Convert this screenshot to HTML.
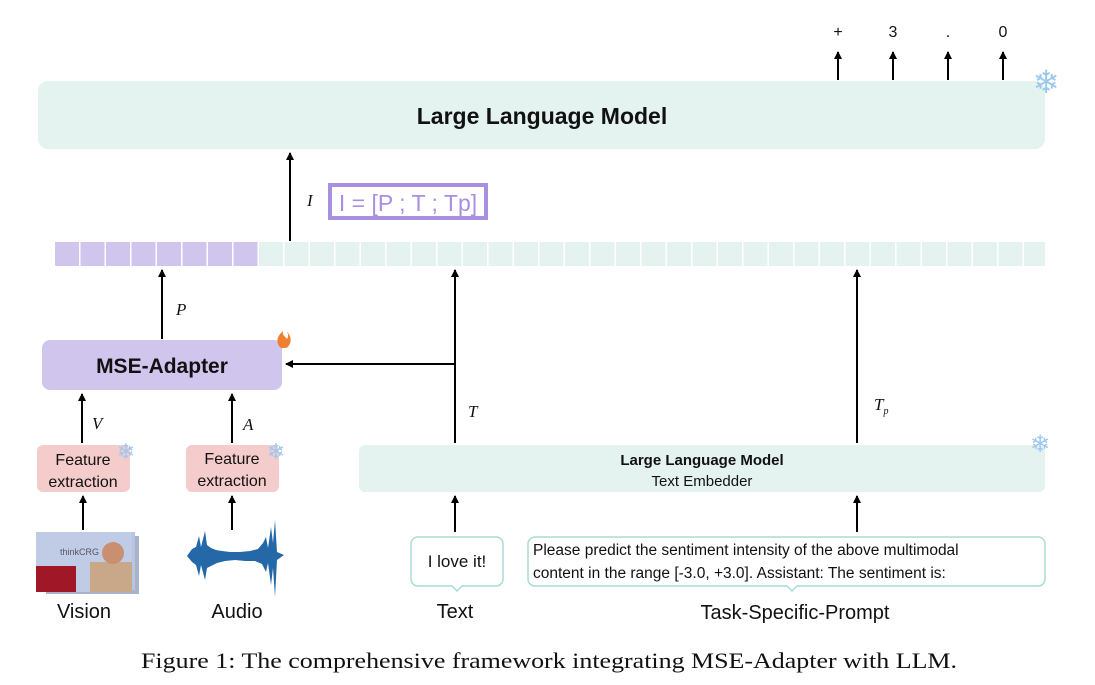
<!DOCTYPE html>
<html><head><meta charset="utf-8"><style>
html,body{margin:0;padding:0;background:#fff;}
svg{display:block;}
text{font-family:"Liberation Sans","DejaVu Sans",sans-serif;}
text.serif{font-family:"Liberation Serif",serif;}
</style></head><body>
<svg width="1095" height="685" viewBox="0 0 1095 685" xmlns="http://www.w3.org/2000/svg">
<defs>
<marker id="ah" markerWidth="8" markerHeight="8" refX="7" refY="4" orient="auto" markerUnits="userSpaceOnUse">
<path d="M0,0 L8,4 L0,8 z" fill="#000"/></marker>
</defs>
<rect x="38" y="81" width="1007" height="68" rx="10" fill="#e4f3ef"/>
<text x="542" y="124" font-size="23" font-weight="bold" text-anchor="middle" fill="#111">Large Language Model</text>
<text x="1046" y="93" font-size="32" fill="#9cc8ee" text-anchor="middle">❄</text>
<g stroke="#000" stroke-width="2" fill="none" marker-end="url(#ah)">
<line x1="838" y1="80" x2="838" y2="52"/><line x1="893" y1="80" x2="893" y2="52"/>
<line x1="948" y1="80" x2="948" y2="52"/><line x1="1003" y1="80" x2="1003" y2="52"/>
</g>
<g font-size="16" text-anchor="middle" fill="#111">
<text x="838" y="37">+</text><text x="893" y="37">3</text><text x="948" y="37">.</text><text x="1003" y="37">0</text>
</g>
<g fill="#d0c5ec">
<rect x="55" y="242" width="24" height="24"/><rect x="80.5" y="242" width="24" height="24"/><rect x="106" y="242" width="24" height="24"/><rect x="131.5" y="242" width="24" height="24"/><rect x="157" y="242" width="24" height="24"/><rect x="182.5" y="242" width="24" height="24"/><rect x="208" y="242" width="24" height="24"/><rect x="233.5" y="242" width="24" height="24"/>
</g>
<g fill="#e4f3ef">
<rect x="259" y="242" width="24" height="24"/><rect x="284.5" y="242" width="24" height="24"/><rect x="310" y="242" width="24" height="24"/><rect x="335.5" y="242" width="24" height="24"/><rect x="361" y="242" width="24" height="24"/><rect x="386.5" y="242" width="24" height="24"/><rect x="412" y="242" width="24" height="24"/><rect x="437.5" y="242" width="24" height="24"/><rect x="463" y="242" width="24" height="24"/><rect x="488.5" y="242" width="24" height="24"/><rect x="514" y="242" width="24" height="24"/><rect x="539.5" y="242" width="24" height="24"/><rect x="565" y="242" width="24" height="24"/><rect x="590.5" y="242" width="24" height="24"/><rect x="616" y="242" width="24" height="24"/><rect x="641.5" y="242" width="24" height="24"/><rect x="667" y="242" width="24" height="24"/><rect x="692.5" y="242" width="24" height="24"/><rect x="718" y="242" width="24" height="24"/><rect x="743.5" y="242" width="24" height="24"/><rect x="769" y="242" width="24" height="24"/><rect x="794.5" y="242" width="24" height="24"/><rect x="820" y="242" width="24" height="24"/><rect x="845.5" y="242" width="24" height="24"/><rect x="871" y="242" width="24" height="24"/><rect x="896.5" y="242" width="24" height="24"/><rect x="922" y="242" width="24" height="24"/><rect x="947.5" y="242" width="24" height="24"/><rect x="973" y="242" width="24" height="24"/><rect x="998.5" y="242" width="24" height="24"/><rect x="1024" y="242" width="21" height="24"/>
</g>
<line x1="290" y1="241" x2="290" y2="153" stroke="#000" stroke-width="2" marker-end="url(#ah)"/>
<text class="serif" x="307" y="206" font-size="17" font-style="italic" fill="#111">I</text>
<rect x="330" y="185" width="156" height="33" fill="#fff" stroke="#a88fe0" stroke-width="4"/>
<text x="408" y="211" font-size="23" text-anchor="middle" fill="#a88fe0">I = [P ; T ; Tp]</text>
<rect x="42" y="340" width="240" height="50" rx="8" fill="#d0c5ec"/>
<text x="162" y="373" font-size="21" font-weight="bold" text-anchor="middle" fill="#111">MSE-Adapter</text>
<path d="M281,348 c-6,-5 -4,-12 2,-17 c-1,5 3,6 4,8 c2,-3 1,-5 0,-7 c5,4 5,13 -1,16 z" fill="#f08030"/>
<g stroke="#000" stroke-width="2" fill="none" marker-end="url(#ah)">
<line x1="162" y1="339" x2="162" y2="270"/>
<line x1="82" y1="443" x2="82" y2="394"/>
<line x1="232" y1="443" x2="232" y2="394"/>
<line x1="455" y1="364" x2="286" y2="364"/>
<line x1="455" y1="443" x2="455" y2="270"/>
<line x1="857" y1="443" x2="857" y2="270"/>
<line x1="83" y1="530" x2="83" y2="496"/>
<line x1="232" y1="530" x2="232" y2="496"/>
<line x1="455" y1="532" x2="455" y2="496"/>
<line x1="857" y1="532" x2="857" y2="496"/>
</g>
<g font-style="italic" font-size="17" fill="#111">
<text class="serif" x="176" y="315">P</text><text class="serif" x="92" y="429">V</text><text class="serif" x="243" y="430">A</text><text class="serif" x="468" y="417">T</text><text class="serif" x="874" y="410">T<tspan font-size="10" dy="4">p</tspan></text>
</g>
<rect x="37" y="445" width="93" height="47" rx="6" fill="#f4cccc"/>
<text x="83" y="465" font-size="16" text-anchor="middle" fill="#111">Feature</text>
<text x="83" y="487" font-size="16" text-anchor="middle" fill="#111">extraction</text>
<rect x="186" y="445" width="93" height="47" rx="6" fill="#f4cccc"/>
<text x="232" y="464" font-size="16" text-anchor="middle" fill="#111">Feature</text>
<text x="232" y="486" font-size="16" text-anchor="middle" fill="#111">extraction</text>
<text x="126" y="459" font-size="22" fill="#9cc8ee" text-anchor="middle">❄</text>
<text x="276" y="459" font-size="22" fill="#9cc8ee" text-anchor="middle">❄</text>
<rect x="359" y="445" width="686" height="47" rx="6" fill="#e4f3ef"/>
<text x="702" y="465" font-size="15" font-weight="bold" text-anchor="middle" fill="#111">Large Language Model</text>
<text x="702" y="486" font-size="15" text-anchor="middle" fill="#111">Text Embedder</text>
<text x="1040" y="452" font-size="24" fill="#9cc8ee" text-anchor="middle">❄</text>
<rect x="46" y="536" width="93" height="58" fill="#a8b4cc"/>
<rect x="42" y="532" width="93" height="58" fill="#b8c4e0"/>
<rect x="36" y="532" width="96" height="60" fill="#c0cce6"/>
<rect x="36" y="566" width="40" height="26" fill="#a01828"/>
<rect x="90" y="562" width="42" height="30" fill="#c8a888"/>
<circle cx="113" cy="553" r="11" fill="#c89070"/>
<text x="60" y="555" font-size="9" fill="#556">thinkCRG</text>
<text x="84" y="618" font-size="20" text-anchor="middle" fill="#111">Vision</text>
<path d="M187,556 L192,549 L196,547 L199,536 L201,547 L205,531 L207,545 L211,548 L216,550 L222,551 L230,552 L240,552 L250,551 L258,549 L263,543 L266,537 L268,548 L271,527 L273,543 L275,520 L277,552 L284,555 L277,560 L275,597 L273,568 L271,585 L268,563 L266,572 L262,564 L255,561 L245,561 L235,560 L225,561 L217,563 L211,566 L207,568 L205,580 L201,565 L199,576 L196,565 L192,562 Z" fill="#2468a8"/>
<text x="237" y="618" font-size="20" text-anchor="middle" fill="#111">Audio</text>
<path d="M418,537 h78 a7,7 0 0 1 7,7 v35 a7,7 0 0 1 -7,7 h-34 l-5,5 l-5,-5 h-34 a7,7 0 0 1 -7,-7 v-35 a7,7 0 0 1 7,-7 z" fill="#fff" stroke="#a8dcd4" stroke-width="1.5"/>
<text x="457" y="567" font-size="17" text-anchor="middle" fill="#111">I love it!</text>
<text x="455" y="618" font-size="20" text-anchor="middle" fill="#111">Text</text>
<path d="M535,537 h503 a7,7 0 0 1 7,7 v35 a7,7 0 0 1 -7,7 h-241 l-5,5 l-5,-5 h-252 a7,7 0 0 1 -7,-7 v-35 a7,7 0 0 1 7,-7 z" fill="#fff" stroke="#a8dcd4" stroke-width="1.5"/>
<text x="533" y="555" font-size="15.5" fill="#111">Please predict the sentiment intensity of the above multimodal</text>
<text x="533" y="578" font-size="15.5" fill="#111">content in the range [-3.0, +3.0]. Assistant: The sentiment is:</text>
<text x="795" y="619" font-size="20" text-anchor="middle" fill="#111">Task-Specific-Prompt</text>
<text class="serif" x="141" y="668" font-size="22" textLength="816" lengthAdjust="spacingAndGlyphs" fill="#111">Figure 1: The comprehensive framework integrating MSE-Adapter with LLM.</text>
</svg>
</body></html>
